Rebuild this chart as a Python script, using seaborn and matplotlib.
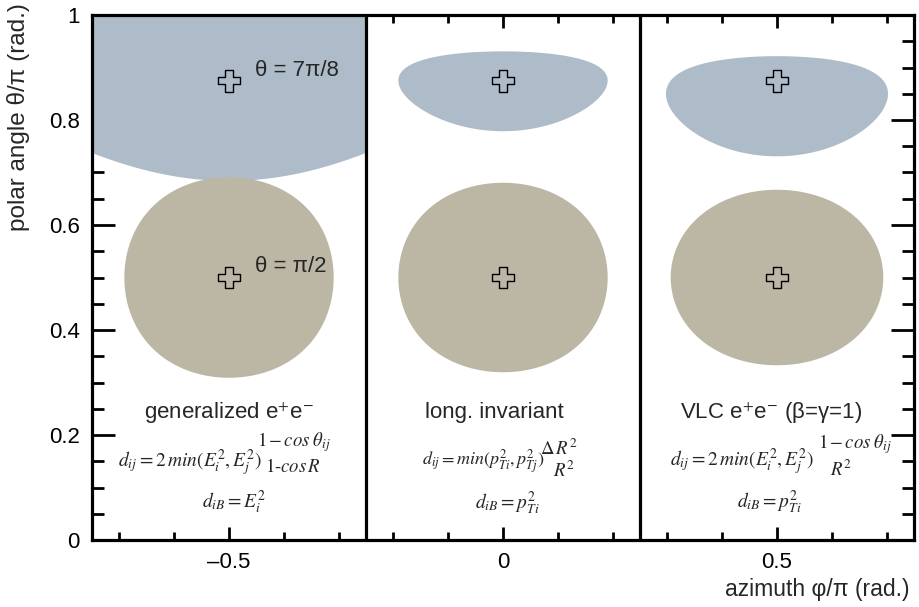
import numpy as np
import pandas as pd
import matplotlib
matplotlib.use("Agg")
import matplotlib.pyplot as plt
import seaborn as sns

# Clustering schemes, one panel each, centred on the jet azimuth (phi/pi)
scheme_titles = ["generalized e$^{+}$e$^{-}$", "long. invariant", "VLC e$^{+}$e$^{-}$ (β=γ=1)"]
scheme_keys = ["ee_genkt", "long_inv", "vlc"]
scheme_phi = [-0.5, 0.0, 0.5]

# Jet axes (polar angle theta/pi) and their colours
jet_theta = [7 / 8, 1 / 2]
jet_theta_labels = ["θ = 7π/8", "θ = π/2"]
jet_colors = ["#adbcc8", "#bcb6a4"]

# Jet radius parameter
R_PARAM = 0.6

x_ticks = [-0.5, 0.0, 0.5]
x_tick_labels = ["\u20130.5", "0", "0.5"]
y_ticks = [0.0, 0.2, 0.4, 0.6, 0.8, 1.0]
y_tick_labels = ["0", "0.2", "0.4", "0.6", "0.8", "1"]

sns.set_theme(style="ticks")
plt.rcParams["font.family"] = ["Liberation Sans", "DejaVu Sans"]
plt.rcParams["mathtext.fontset"] = "stix"
plt.rcParams["mathtext.default"] = "it"


def cos_opening(th, ph, th0, ph0):
    return np.sin(th) * np.sin(th0) * np.cos(ph - ph0) + np.cos(th) * np.cos(th0)


def rapidity(th):
    th = np.clip(th, 1e-6, np.pi - 1e-6)
    return -np.log(np.tan(th / 2))


def area_metric(key, th, ph, th0, ph0, R):
    """Negative where a soft particle clusters with the jet rather than the beam."""
    if key == "ee_genkt":
        return (1 - cos_opening(th, ph, th0, ph0)) - (1 - np.cos(R))
    if key == "long_inv":
        return (rapidity(th) - rapidity(th0)) ** 2 + (ph - ph0) ** 2 - R ** 2
    return 2 * (1 - cos_opening(th, ph, th0, ph0)) - R ** 2 * np.sin(th) ** 2


fig = plt.figure(figsize=(9.2, 6.07), dpi=100)
ax = fig.add_axes([92 / 920, 67 / 607, 822 / 920, 525 / 607])

half_width = (scheme_phi[1] - scheme_phi[0]) / 2
ys = np.linspace(0, 1, 1200)
for key, phi0 in zip(scheme_keys, scheme_phi):
    xs = np.linspace(phi0 - half_width, phi0 + half_width, 600)
    X, Y = np.meshgrid(xs, ys)
    for th0, col in zip(jet_theta, jet_colors):
        F = area_metric(key, Y * np.pi, X * np.pi, th0 * np.pi, phi0 * np.pi, R_PARAM)
        ax.contourf(X, Y, F, levels=[F.min() - 1, 0], colors=[col], antialiased=True, zorder=1)

# Panel separators
for a, b in zip(scheme_phi[:-1], scheme_phi[1:]):
    ax.axvline((a + b) / 2, color="black", lw=2.3, zorder=4)

# Jet axes markers
jets = pd.DataFrame(
    [(p, t) for p in scheme_phi for t in jet_theta], columns=["phi", "theta"]
)
sns.scatterplot(
    data=jets, x="phi", y="theta", marker="P", s=250, color="none",
    edgecolor="black", linewidth=1.0, ax=ax, legend=False, zorder=5,
)

# Jet labels in the first panel
for t, lab in zip(jet_theta, jet_theta_labels):
    ax.text(scheme_phi[0] + 0.047, t + 0.02, lab, fontsize=16, ha="left", va="center", zorder=6)

# Scheme titles
title_x = [-0.5, -0.015, 0.49]
for x, title in zip(title_x, scheme_titles):
    ax.text(x, 0.242, title, fontsize=16, ha="center", va="center", zorder=6)

# Distance measures
formulas = [
    (-0.703, 0.147, 14, r"$d_{ij} = 2\,min(E^{2}_{i},E^{2}_{j})$"),
    (-0.449, 0.186, 13.5, r"$1\,{-}\,cos\;\theta_{ij}$"),
    (-0.434, 0.139, 13.5, r"$1\text{-}cos\,R$"),
    (-0.549, 0.072, 14, r"$d_{iB} = E^{2}_{i}$"),
    (-0.148, 0.149, 13, r"$d_{ij} = min(p^{2}_{Ti},p^{2}_{Tj})$"),
    (0.068, 0.173, 13.5, r"$\Delta\,R^{2}$"),
    (0.092, 0.132, 13.5, r"$R^{2}$"),
    (-0.051, 0.070, 14, r"$d_{iB} = p^{2}_{Ti}$"),
    (0.305, 0.149, 14, r"$d_{ij} = 2\,min(E^{2}_{i},E^{2}_{j})$"),
    (0.575, 0.183, 13.5, r"$1\,{-}\,cos\;\theta_{ij}$"),
    (0.597, 0.134, 13.5, r"$R^{2}$"),
    (0.427, 0.072, 14, r"$d_{iB} = p^{2}_{Ti}$"),
]
for x, y, fs, s in formulas:
    ax.text(x, y, s, fontsize=fs, ha="left", va="center", zorder=6)

ax.set_xlim(-0.75, 0.75)
ax.set_ylim(0, 1)
ax.set_xticks(x_ticks)
ax.set_xticklabels(x_tick_labels)
ax.set_xticks(np.arange(-0.7, 0.71, 0.1), minor=True)
ax.set_yticks(y_ticks)
ax.set_yticklabels(y_tick_labels)
ax.set_yticks(np.arange(0.0, 1.001, 0.05), minor=True)

for sp in ax.spines.values():
    sp.set_linewidth(2.3)
    sp.set_color("black")
    sp.set_zorder(7)

ax.tick_params(axis="both", which="both", direction="in", top=True, right=True,
               color="black", width=2.0, labelsize=16, labelcolor="black")
ax.tick_params(axis="x", which="major", length=9.5, pad=9)
ax.tick_params(axis="x", which="minor", length=6)
ax.tick_params(axis="y", which="major", length=16.5, pad=9)
ax.tick_params(axis="y", which="minor", length=8.5)

ax.set_xlabel("azimuth φ/π (rad.)", fontsize=16.5, loc="right")
ax.xaxis.set_label_coords(0.995, -0.072)
ax.set_ylabel("polar angle θ/π (rad.)", fontsize=17.5, loc="top")
ax.yaxis.set_label_coords(-0.075, 1.023)

fig.savefig("out.png", dpi=100)
